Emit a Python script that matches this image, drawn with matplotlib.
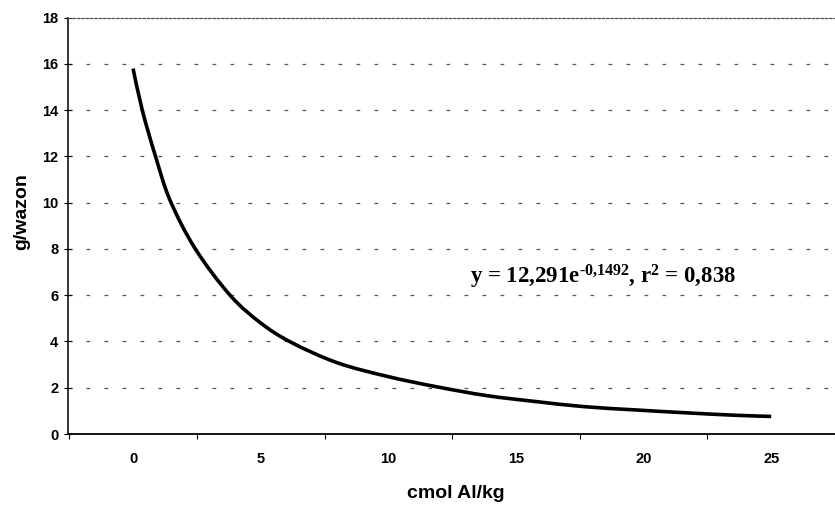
import matplotlib
matplotlib.use("Agg")
import matplotlib.pyplot as plt
from matplotlib.path import Path
from matplotlib.patches import PathPatch
import numpy as np

# Data
x_vals = [0, 0.36, 0.88, 1.45, 2.44, 3.8, 5.0, 6.2, 8.0, 10.0, 11.9, 13.85,
          15.8, 17.7, 19.7, 21.6, 23.6, 25.0]
y_vals = [15.8, 14.0, 12.0, 10.1, 8.0, 6.0, 4.8, 3.96, 3.08, 2.48, 2.04, 1.66,
          1.40, 1.18, 1.04, 0.92, 0.81, 0.76]
x_labels = [0, 5, 10, 15, 20, 25]
x_ticks = [-2.5, 2.5, 7.5, 12.5, 17.5, 22.5, 27.5]
y_ticks = [0, 2, 4, 6, 8, 10, 12, 14, 16, 18]
equation = "y = 12,291e$^{\u2010 0{,}1492}$, r$^{2}$ = 0,838"
x_title = "cmol Al/kg"
y_title = "g/wazon"

plt.rcParams['mathtext.default'] = 'regular'

W, H = 835, 505
fig = plt.figure(figsize=(W / 100, H / 100), dpi=100)
ax = fig.add_axes([68 / W, (H - 434) / H, (W - 68) / W, (434 - 17.7) / H])

ax.set_xlim(-2.55, 27.26)
ax.set_ylim(0, 18)

# smoothed line through the read points (Excel-like "smoothed line")
pts = np.column_stack([x_vals, y_vals])
verts = [tuple(pts[0])]
codes = [Path.MOVETO]
n = len(pts)
for i in range(n - 1):
    p0 = pts[i - 1] if i > 0 else pts[i]
    p1 = pts[i]
    p2 = pts[i + 1]
    p3 = pts[i + 2] if i + 2 < n else pts[i + 1]
    c1 = p1 + (p2 - p0) / 6.0
    c2 = p2 - (p3 - p1) / 6.0
    verts += [tuple(c1), tuple(c2), tuple(p2)]
    codes += [Path.CURVE4] * 3
curve = PathPatch(Path(verts, codes), facecolor='none', edgecolor='black',
                  lw=2.6, capstyle='butt', zorder=3)
ax.add_patch(curve)

# gridlines
for yv in y_ticks[1:-1]:
    ax.axhline(yv, color='#555555', lw=0.9, dashes=(3.0, 11.4), zorder=0)

ax.spines['right'].set_visible(False)
ax.spines['top'].set_color('#555555')
ax.spines['top'].set_linestyle((0, (2, 1.5)))
ax.spines['top'].set_linewidth(0.9)
ax.spines['left'].set_linewidth(1.1)
ax.spines['bottom'].set_linewidth(1.3)

ax.set_yticks(y_ticks)
ax.set_yticklabels([str(v) for v in y_ticks], fontsize=10.5, fontweight='bold',
                   family='Liberation Sans')
ax.tick_params(axis='y', direction='inout', length=6, width=0.8, pad=4)

ax.set_xticks(x_ticks)
ax.set_xticklabels([''] * len(x_ticks))
ax.tick_params(axis='x', which='major', direction='out', length=3.5, width=0.8)
ax.set_xticks(x_labels, minor=True)
ax.set_xticklabels([str(v) for v in x_labels], minor=True, fontsize=10.5,
                   fontweight='bold', family='Liberation Sans')
ax.tick_params(axis='x', which='minor', length=0, pad=13)

ax.text(13.2, 6.5, equation, fontsize=16.5, fontweight='bold',
        family='Liberation Serif', ha='left', va='baseline')

fig.text(456 / W, 1 - 494 / H, x_title, fontsize=14, fontweight='bold',
         family='Liberation Sans', ha='center', va='center')
fig.text(22 / W, 1 - 212 / H, y_title, fontsize=14, fontweight='bold',
         family='Liberation Sans', ha='center', va='center', rotation=90)

fig.savefig("out.png", dpi=100)
